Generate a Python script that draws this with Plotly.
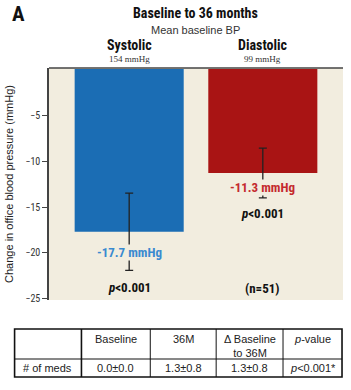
import plotly.graph_objects as go

# ---- data ----
categories = ["Systolic", "Diastolic"]
baseline_bp = ["154 mmHg", "99 mmHg"]
change = [-17.7, -11.3]
error = [4.2, 2.7]
p_values = ["p<0.001", "p<0.001"]
n_label = "(n=51)"
y_ticks = [-5, -10, -15, -20, -25]

table_header = ["", "Baseline", "36M", "Δ Baseline<br>to 36M", "<i>p</i>-value"]
table_row = ["# of meds", "0.0±0.0", "1.3±0.8", "1.3±0.8", "<i>p</i><0.001*"]

# ---- style ----
COND = "Roboto Condensed, DejaVu Sans Condensed, sans-serif"
REG = "Liberation Sans, Arial, sans-serif"
bar_colors = ["#1b6db4", "#a91414"]
label_colors = ["#3a8ad0", "#c42a2e"]
BG = "#f2eddf"

W, H = 351, 390
L, R, T, B = 44, 8, 68, 90
PW, PH = W - L - R, H - T - B


def px(x):
    return (x - L) / PW


def py(y):
    return (H - B - y) / PH


fig = go.Figure()
fig.add_trace(go.Bar(
    x=categories, y=change, width=0.816,
    marker=dict(color=bar_colors, line=dict(width=0)),
    error_y=dict(type="data", array=error, visible=True, color="#222222",
                 thickness=1.3, width=4),
    hoverinfo="skip",
))

ann = []
# headline texts
ann.append(dict(text="<b>A</b>", x=px(4), y=py(14), xanchor="left", yanchor="middle",
                font=dict(family=COND, size=21, color="#111")))
ann.append(dict(text="<b>Baseline to 36 months</b>", x=px(193), y=py(13), xanchor="center", yanchor="middle",
                font=dict(family=COND, size=14, color="#111")))
ann.append(dict(text="Mean baseline BP", x=px(193), y=py(30), xanchor="center", yanchor="middle",
                font=dict(family=REG, size=11, color="#333")))
for i, c in enumerate(categories):
    ann.append(dict(text="<b>%s</b>" % c, x=c, xref="x", y=py(45), xanchor="center", yanchor="middle",
                    font=dict(family=COND, size=14, color="#111")))
    ann.append(dict(text=baseline_bp[i], x=c, xref="x", y=py(59), xanchor="center", yanchor="middle",
                    font=dict(family="Liberation Serif, DejaVu Serif, serif", size=9, color="#333")))

# value labels
label_y = [252, 187]
p_y = [287, 213]
for i, c in enumerate(categories):
    ann.append(dict(text="<b>%.1f mmHg</b>" % change[i], x=c, xref="x", y=py(label_y[i]),
                    xanchor="center", yanchor="middle", bgcolor=BG, borderpad=0,
                    font=dict(family=COND, size=13, color=label_colors[i])))
    ptxt = p_values[i].replace("p", "<i>p</i>", 1)
    ann.append(dict(text="<b>%s</b>" % ptxt, x=c, xref="x", y=py(p_y[i]),
                    xanchor="center", yanchor="middle",
                    font=dict(family=COND, size=13, color="#111")))
ann.append(dict(text="<b>%s</b>" % n_label, x=categories[1], xref="x", y=py(288),
                xanchor="center", yanchor="middle",
                font=dict(family=COND, size=13, color="#111")))

# ---- table ----
col_x = [9, 77, 147, 214, 282, 342]
t_top, t_mid, t_bot = 329, 359, 377
shapes = []
shapes.append(dict(type="rect", xref="paper", yref="paper", x0=px(col_x[0]), x1=px(col_x[-1]),
                   y0=py(t_bot), y1=py(t_top), line=dict(color="#111", width=1.6)))
shapes.append(dict(type="line", xref="paper", yref="paper", x0=px(col_x[0]), x1=px(col_x[-1]),
                   y0=py(t_mid), y1=py(t_mid), line=dict(color="#111", width=1)))
for j, xc in enumerate(col_x[1:-1]):
    shapes.append(dict(type="line", xref="paper", yref="paper", x0=px(xc), x1=px(xc),
                       y0=py(t_bot), y1=py(t_top), line=dict(color="#111", width=1.6 if j == 0 else 1)))
for j in range(5):
    cx = (col_x[j] + col_x[j + 1]) / 2
    if table_header[j]:
        ann.append(dict(text=table_header[j], x=px(cx), y=py(t_top + 2), xanchor="center", yanchor="top",
                        font=dict(family=REG, size=11, color="#222")))
    if j == 0:
        ann.append(dict(text=table_row[j], x=px(col_x[0] + 7), y=py((t_mid + t_bot) / 2), xanchor="left",
                        yanchor="middle", font=dict(family=REG, size=11, color="#222")))
    else:
        ann.append(dict(text=table_row[j], x=px(cx), y=py((t_mid + t_bot) / 2), xanchor="center",
                        yanchor="middle", font=dict(family=REG, size=11, color="#222")))

for a in ann:
    a.setdefault("xref", "paper")
    a.setdefault("yref", "paper")
    a["showarrow"] = False

# top border of plot
shapes.append(dict(type="line", xref="paper", yref="paper", x0=0, x1=1, y0=1, y1=1,
                   line=dict(color="#444", width=1.5), layer="above"))

fig.update_layout(
    width=W, height=H, margin=dict(l=L, r=R, t=T, b=B, pad=0),
    paper_bgcolor="white", plot_bgcolor=BG, showlegend=False,
    annotations=ann, shapes=shapes,
    xaxis=dict(range=[-0.6, 1.6], showticklabels=False, showgrid=False, zeroline=False,
               showline=False, ticks="", fixedrange=True),
    yaxis=dict(range=[-25.11, 0.11], tickvals=y_ticks, ticktext=["−%d" % abs(v) for v in y_ticks],
               showgrid=False, zeroline=False, showline=True, linecolor="#444", linewidth=1.5,
               ticks="outside", ticklen=5, tickcolor="#444", tickwidth=1,
               tickfont=dict(family=COND, size=10, color="#333"),
               title=dict(text="Change in office blood pressure (mmHg)", standoff=10,
                          font=dict(family=REG, size=11, color="#222"))),
)

fig.write_html("out.html")
